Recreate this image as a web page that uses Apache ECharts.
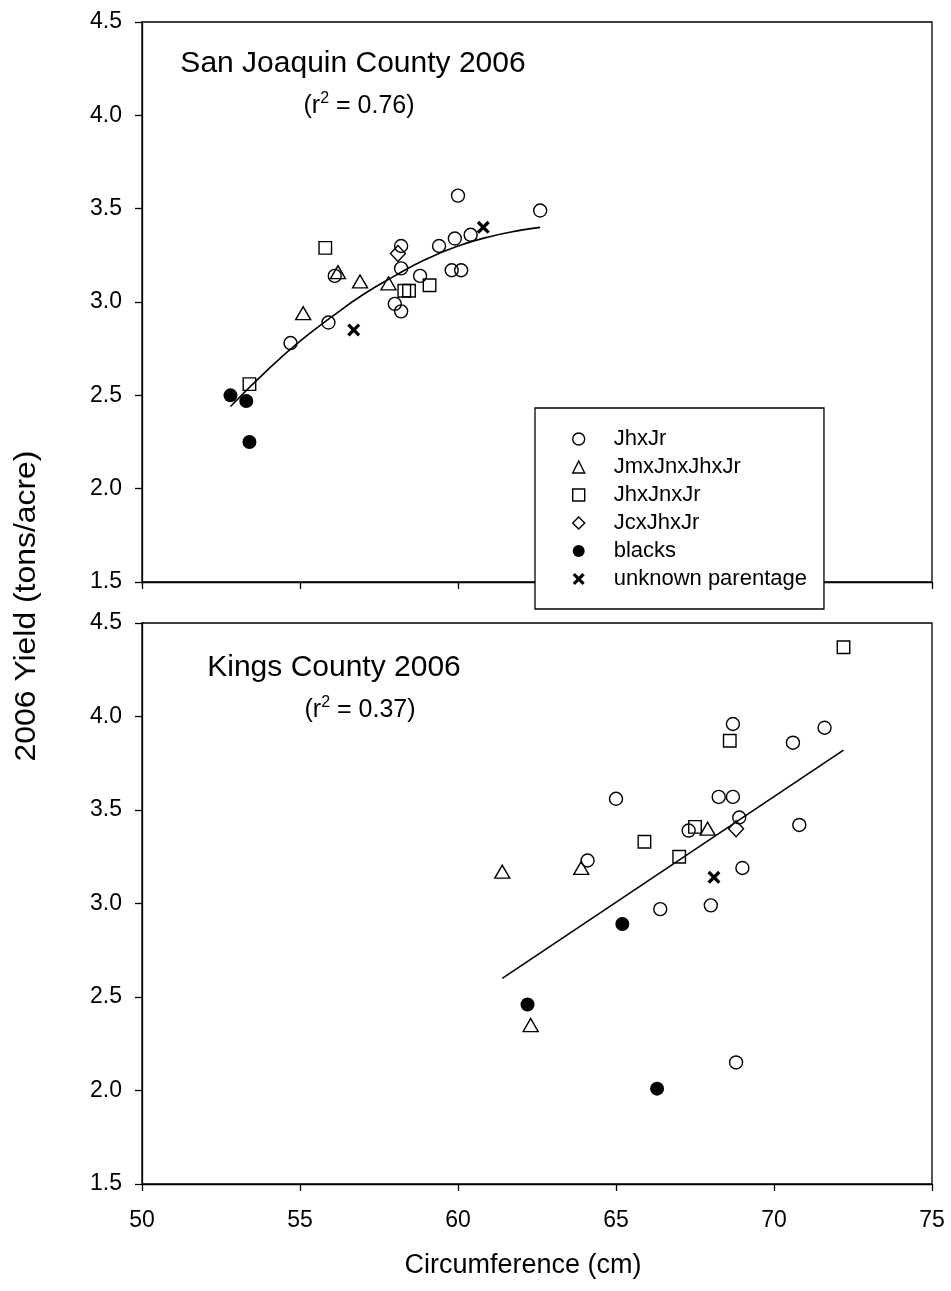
<!DOCTYPE html>
<html><head><meta charset="utf-8">
<script src="https://cdn.jsdelivr.net/npm/echarts@6/dist/echarts.min.js"></script>
<style>html,body{margin:0;padding:0;background:#fff}#c{width:951px;height:1291px}</style>
</head><body><div id="c"></div>
<script>
// ---------- data ----------
const groupNames = ['JhxJr', 'JmxJnxJhxJr', 'JhxJnxJr', 'JcxJhxJr', 'blacks', 'unknown parentage'];
const xTicks = [50, 55, 60, 65, 70, 75];
const yTicks = [1.5, 2.0, 2.5, 3.0, 3.5, 4.0, 4.5];

// San Joaquin County 2006
const sjJhxJrX = [54.7, 55.9, 56.1, 58.2, 58.2, 58.0, 58.2, 58.8, 59.4, 59.9, 60.4, 59.8, 60.1, 60.0, 62.6];
const sjJhxJrY = [2.78, 2.89, 3.14, 3.30, 3.18, 2.99, 2.95, 3.14, 3.30, 3.34, 3.36, 3.17, 3.17, 3.57, 3.49];
const sjJmX = [55.1, 56.2, 56.9, 57.8];
const sjJmY = [2.94, 3.16, 3.11, 3.10];
const sjJhJnX = [55.8, 53.4, 58.3, 58.45, 59.1];
const sjJhJnY = [3.29, 2.56, 3.06, 3.06, 3.09];
const sjJcX = [58.1];
const sjJcY = [3.26];
const sjBlackX = [52.8, 53.3, 53.4];
const sjBlackY = [2.50, 2.47, 2.25];
const sjUnkX = [56.7, 60.8];
const sjUnkY = [2.85, 3.40];
const sjFitX = [52.8, 54, 55, 56, 57, 58, 59, 60, 61, 62, 62.6];
const sjFitY = [2.44, 2.64, 2.79, 2.92, 3.04, 3.14, 3.23, 3.30, 3.35, 3.385, 3.40];

// Kings County 2006
const kcJhxJrX = [68.7, 70.6, 71.6, 65.0, 68.25, 68.7, 68.9, 70.8, 67.3, 64.1, 69.0, 66.4, 68.0, 68.8];
const kcJhxJrY = [3.96, 3.86, 3.94, 3.56, 3.57, 3.57, 3.46, 3.42, 3.39, 3.23, 3.19, 2.97, 2.99, 2.15];
const kcJmX = [61.4, 63.9, 67.9, 62.3];
const kcJmY = [3.17, 3.19, 3.40, 2.35];
const kcJhJnX = [72.2, 68.6, 67.5, 65.9, 67.0];
const kcJhJnY = [4.37, 3.87, 3.41, 3.33, 3.25];
const kcJcX = [68.8];
const kcJcY = [3.40];
const kcBlackX = [65.2, 62.2, 66.3];
const kcBlackY = [2.89, 2.46, 2.01];
const kcUnkX = [68.1];
const kcUnkY = [3.14];
const kcFitX = [61.4, 72.2];
const kcFitY = [2.60, 3.82];

// ---------- chart ----------
const FONT = '"Liberation Sans", Arial, Helvetica, sans-serif';
const zip = (xs, ys) => xs.map((x, i) => [x, ys[i]]);
const X_PATH = 'path://M0,1.8 L1.8,0 L5,3.2 L8.2,0 L10,1.8 L6.8,5 L10,8.2 L8.2,10 L5,6.8 L1.8,10 L0,8.2 L3.2,5 Z';
const hollow = { color: 'rgba(0,0,0,0)', borderColor: '#000', borderWidth: 1.4, opacity: 1 };
const filled = { color: '#000', borderWidth: 0, opacity: 1 };
const symbolDefs = [
  { symbol: 'circle', size: 13, style: hollow },
  { symbol: 'triangle', size: [15, 13], style: hollow },
  { symbol: 'rect', size: 12.5, style: hollow },
  { symbol: 'diamond', size: [15, 16], style: hollow },
  { symbol: 'circle', size: 14, style: filled },
  { symbol: X_PATH, size: 13, style: filled }
];
const panels = [
  { xs: [sjJhxJrX, sjJmX, sjJhJnX, sjJcX, sjBlackX, sjUnkX], ys: [sjJhxJrY, sjJmY, sjJhJnY, sjJcY, sjBlackY, sjUnkY], fx: sjFitX, fy: sjFitY, smooth: true },
  { xs: [kcJhxJrX, kcJmX, kcJhJnX, kcJcX, kcBlackX, kcUnkX], ys: [kcJhxJrY, kcJmY, kcJhJnY, kcJcY, kcBlackY, kcUnkY], fx: kcFitX, fy: kcFitY, smooth: false }
];

const series = [];
panels.forEach((p, pi) => {
  series.push({
    type: 'line', xAxisIndex: pi, yAxisIndex: pi, data: zip(p.fx, p.fy),
    smooth: p.smooth, showSymbol: false, symbol: 'none', silent: true,
    lineStyle: { color: '#000', width: 1.6 }, z: 1
  });
  groupNames.forEach((name, gi) => {
    const d = symbolDefs[gi];
    series.push({
      type: 'scatter', name: name, xAxisIndex: pi, yAxisIndex: pi,
      data: zip(p.xs[gi], p.ys[gi]), symbol: d.symbol, symbolSize: d.size,
      itemStyle: d.style, z: 3, silent: true
    });
  });
});

const hollowLeg = { color: 'rgba(0,0,0,0)', borderColor: '#000', borderWidth: 1.4, opacity: 1 };
const filledLeg = { color: '#000', borderWidth: 0, opacity: 1 };
const legendIcon = [
  { icon: 'circle', itemStyle: hollowLeg },
  { icon: 'triangle', itemStyle: hollowLeg },
  { icon: 'rect', itemStyle: hollowLeg },
  { icon: 'diamond', itemStyle: hollowLeg },
  { icon: 'circle', itemStyle: filledLeg },
  { icon: X_PATH, itemStyle: filledLeg }
];

function xAxis(gi, showLabel) {
  return {
    type: 'value', gridIndex: gi, min: 50, max: 75, interval: 5,
    axisLine: { show: true, onZero: false, lineStyle: { color: '#000', width: 1.3 } },
    axisTick: { show: true, length: 7, lineStyle: { color: '#000', width: 1.3 } },
    axisLabel: { show: showLabel, color: '#000', fontSize: 23, fontFamily: FONT, margin: 25 },
    splitLine: { show: false }
  };
}
function yAxis(gi) {
  return {
    type: 'value', gridIndex: gi, min: 1.5, max: 4.5, interval: 0.5,
    axisLine: { show: true, onZero: false, lineStyle: { color: '#000', width: 1.3 } },
    axisTick: { show: true, length: 7, lineStyle: { color: '#000', width: 1.3 } },
    axisLabel: { color: '#000', fontSize: 23, fontFamily: FONT, margin: 20, formatter: v => v.toFixed(1) },
    splitLine: { show: false }
  };
}

const rich = {
  s: { fontSize: 16, lineHeight: 16, verticalAlign: 'top', fontFamily: FONT, fill: '#000' },
  n: { fontSize: 25, lineHeight: 30, fontFamily: FONT, fill: '#000' }
};

const option = {
  backgroundColor: '#fff',
  animation: false,
  grid: [
    { left: 142, top: 22, width: 790, height: 560, show: true, borderColor: '#000', borderWidth: 1.3, backgroundColor: 'rgba(0,0,0,0)' },
    { left: 142, top: 623, width: 790, height: 561, show: true, borderColor: '#000', borderWidth: 1.3, backgroundColor: 'rgba(0,0,0,0)' }
  ],
  xAxis: [xAxis(0, false), xAxis(1, true)],
  yAxis: [yAxis(0), yAxis(1)],
  legend: {
    orient: 'vertical', left: 535, top: 408,
    padding: [20, 17, 19, 37], itemWidth: 12, itemHeight: 12, itemGap: 6,
    backgroundColor: '#fff', borderColor: '#000', borderWidth: 1.3, borderRadius: 0,
    selectedMode: false, z: 10,
    textStyle: { color: '#000', fontSize: 22, fontFamily: FONT, lineHeight: 18, padding: [0, 0, 0, 24] },
    data: groupNames.map((n, i) => Object.assign({ name: n }, legendIcon[i]))
  },
  graphic: [
    { type: 'text', x: 353, y: 64, style: { text: 'San Joaquin County 2006', font: '30px ' + FONT, fill: '#000', align: 'center', verticalAlign: 'middle' } },
    { type: 'text', x: 359, y: 106, style: { text: '{n|(r}{s|2}{n| = 0.76)}', rich: rich, font: '25px ' + FONT, fill: '#000', align: 'center', verticalAlign: 'middle' } },
    { type: 'text', x: 334, y: 668, style: { text: 'Kings County 2006', font: '30px ' + FONT, fill: '#000', align: 'center', verticalAlign: 'middle' } },
    { type: 'text', x: 360, y: 710, style: { text: '{n|(r}{s|2}{n| = 0.37)}', rich: rich, font: '25px ' + FONT, fill: '#000', align: 'center', verticalAlign: 'middle' } },
    { type: 'text', x: 27, y: 606, rotation: Math.PI / 2, scaleX: 1.1, style: { text: '2006 Yield (tons/acre)', font: '29px ' + FONT, fill: '#000', align: 'center', verticalAlign: 'middle' } },
    { type: 'text', x: 523, y: 1266, style: { text: 'Circumference (cm)', font: '27px ' + FONT, fill: '#000', align: 'center', verticalAlign: 'middle' } }
  ],
  series: series
};

const chart = echarts.init(document.getElementById('c'), null, { renderer: 'canvas', width: 951, height: 1291 });
chart.setOption(option);
</script>
</body></html>
